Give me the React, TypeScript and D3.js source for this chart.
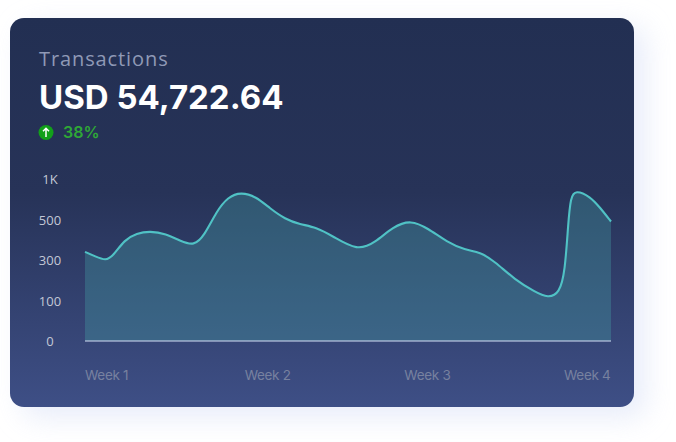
import React from "react";
import * as d3 from "d3";

const weekLabels = ["Week 1", "Week 2", "Week 3", "Week 4"];
const yTicks = [0, 100, 300, 500, 1000];
const yTickLabels = ["0", "100", "300", "500", "1K"];
const days = [0, 0.55, 1.1, 1.5, 2.1, 2.75, 3.46, 4.3, 5.1, 5.8, 6.35, 7.0, 7.61, 8.3, 9.1, 9.85, 10.65, 11.44, 12.3, 13.2, 14.5, 15.44, 16.4, 17.35, 18.26, 19.27, 20.23, 21.03, 21.82, 22.89, 23.95, 24.65, 25.25, 25.55, 25.72, 25.85, 26.1, 26.9, 27.41, 28];
const values = [340, 318, 296, 320, 400, 432, 443, 430, 393, 370, 420, 600, 775, 835, 780, 634, 505, 476, 462, 417, 345, 385, 465, 498, 456, 389, 349, 340, 292, 202, 143, 112, 135, 240, 480, 770, 860, 780, 646, 490];

const x = d3.scaleLinear().domain([0, 28]).range([85, 611]);
const y = d3.scaleLinear().domain(yTicks).range([341, 300.5, 260, 219.5, 178.5]);
const xLabel = d3.scalePoint<string>().domain(weekLabels).range([85, 564]);
const pts = days.map((d, i) => [d, values[i]] as [number, number]);
const curve = d3.curveBasis;
const line = d3.line<[number, number]>().x((d) => x(d[0])).y((d) => y(d[1])).curve(curve);
const area = d3.area<[number, number]>().x((d) => x(d[0])).y0(y(0)).y1((d) => y(d[1])).curve(curve);

export default function App() {
  return (
    <svg width={676} height={442} style={{ position: "absolute", left: 0, top: 0, background: "#fff" }}>
      <defs>
        <linearGradient id="card" x1="0" y1="0" x2="0" y2="1">
          <stop offset="0" stopColor="#222f52" />
          <stop offset="0.45" stopColor="#273358" />
          <stop offset="1" stopColor="#3e4f86" />
        </linearGradient>
        <filter id="blur" x="-20%" y="-20%" width="140%" height="140%">
          <feGaussianBlur stdDeviation="14" />
        </filter>
      </defs>
      <rect x={22} y={26} width={624} height={392} rx={16} fill="#dfe5f8" opacity={0.7} filter="url(#blur)" />
      <rect x={10} y={18} width={624} height={389} rx={14} fill="url(#card)" />
      <text x={39} y={66} fontFamily="'Open Sans'" fontSize={20} letterSpacing={0.9} fill="#8f99b6">Transactions</text>
      <text x={39} y={109} fontFamily="Inter" fontWeight={700} fontSize={33} fill="#fff">USD 54,722.64</text>
      <circle cx={46} cy={132.5} r={7.5} fill="#12a01a" />
      <path d="M46 137 V128.5 M43 131.3 L46 128.3 L49 131.3" stroke="#fff" strokeWidth={1.5} fill="none" />
      <text x={63} y={138} fontFamily="Inter" fontWeight={600} fontSize={16} fill="#2fa836">38%</text>
      {yTicks.map((t, i) => (
        <text key={t} x={50} y={y(t) + 5} textAnchor="middle" fontFamily="'Open Sans'" fontSize={13} fill="#c3c8d6">{yTickLabels[i]}</text>
      ))}
      <path d={area(pts) ?? ""} fill="#45a5a8" fillOpacity={0.33} />
      <path d={line(pts) ?? ""} fill="none" stroke="#50c2c5" strokeWidth={2.1} />
      <line x1={85} x2={611} y1={y(0)} y2={y(0)} stroke="#d5e0f5" strokeWidth={1.2} />
      {weekLabels.map((w) => (
        <text key={w} x={xLabel(w)} y={380} fontFamily="Inter" fontSize={13.5} fill="#77819f" letterSpacing={-0.3}>{w}</text>
      ))}
    </svg>
  );
}
